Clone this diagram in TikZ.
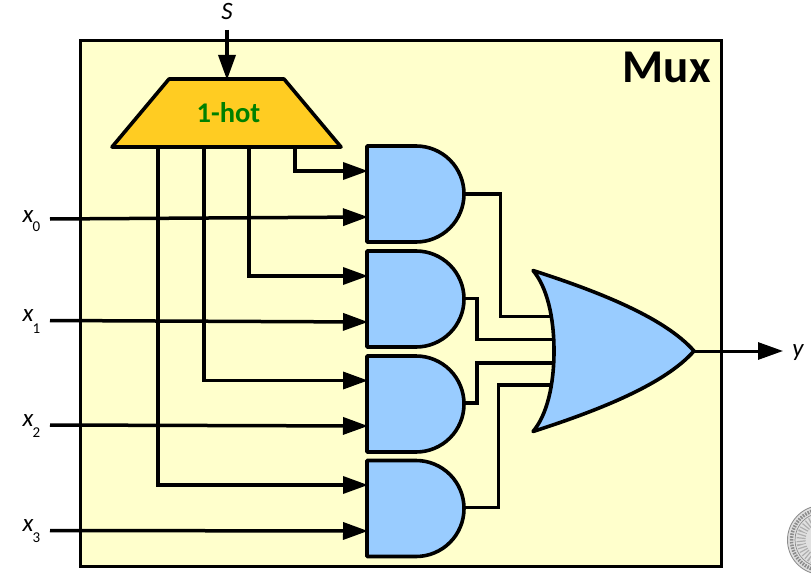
\documentclass[tikz,border=0pt]{standalone}
\usepackage{fontspec}
\setmainfont{Carlito}
\usetikzlibrary{arrows.meta}
\definecolor{boxbg}{HTML}{FFFFCC}
\definecolor{gateblue}{HTML}{99CCFF}
\definecolor{hotfill}{HTML}{FFCC22}
\definecolor{hotgreen}{HTML}{008000}
\definecolor{sealgray}{HTML}{8C8C8C}
\tikzset{
  wire/.style={line width=3.5pt,line join=miter},
  sig/.style={wire,-{Triangle[length=25pt,width=17pt,sep=-1pt]}},
  gateline/.style={line width=3.6pt,draw=black,fill=gateblue,line join=round},
  lab/.style={font=\fontsize{25}{25}\selectfont\itshape,inner sep=0pt},
  sub/.style={font=\fontsize{15}{15}\selectfont,inner sep=0pt},
}
\newcommand{\andgate}[2]{%
  \draw[gateline] (367,#2) coordinate (#1) -- ++(49,0) arc[start angle=-90,end angle=90,radius=48] -- (367,#2+96) -- cycle;
  \coordinate (#1o) at (464,#2+48);
}
\begin{document}
\begin{tikzpicture}[x=1pt,y=-1pt]
\useasboundingbox (0,0) rectangle (811,575);
\node[draw=black,line width=3.6pt,fill=boxbg,minimum width=641pt,minimum height=526pt,inner sep=0pt,outer sep=0pt,anchor=north west] (box) at (80.5,40.5) {};
\node[font=\fontsize{47}{47}\selectfont\bfseries,inner sep=0pt,anchor=base east] (muxlab) at (711,83) {Mux};
% seal
\fill[black!12] (822,540) circle[radius=34];
\draw[sealgray,line width=0.9pt] (822,540) circle[radius=34.5];
\draw[sealgray,line width=3.5pt,dash pattern=on 1.6pt off 1.2pt] (822,540) circle[radius=30.5];
\draw[sealgray,line width=0.7pt] (822,540) circle[radius=27];
\draw[sealgray!70,line width=9pt,dash pattern=on 1.2pt off 2pt] (822,540) circle[radius=21];
% inputs
\coordinate (x0s) at (50,219); \coordinate (x0e) at (367,217);
\coordinate (x1s) at (50,320.5); \coordinate (x1e) at (367,322);
\coordinate (x2s) at (50,425); \coordinate (x2e) at (367,426);
\coordinate (x3s) at (50,530.5); \coordinate (x3e) at (367,531);
\draw[sig] (x0s) -- (x0e);
\draw[sig] (x1s) -- (x1e);
\draw[sig] (x2s) -- (x2e);
\draw[sig] (x3s) -- (x3e);
% decoder outputs
\coordinate (d0) at (295,147); \coordinate (g0a) at (367,171);
\coordinate (d1) at (249,147); \coordinate (g1a) at (367,276);
\coordinate (d2) at (204,147); \coordinate (g2a) at (367,380.5);
\coordinate (d3) at (158,147); \coordinate (g3a) at (367,485);
\draw[sig] (d0) |- (g0a);
\draw[sig] (d1) |- (g1a);
\draw[sig] (d2) |- (g2a);
\draw[sig] (d3) |- (g3a);
% S
\coordinate (ss) at (227,30); \coordinate (se) at (227,79);
\draw[sig] (ss) -- (se);
% decoder
\draw[line width=3.6pt,draw=black,fill=hotfill,line join=round] (169,79) -- (284,79) -- (341,147) -- (112,147) -- cycle;
\node[font=\fontsize{28.5}{28.5}\selectfont\bfseries,text=hotgreen,inner sep=0pt] (hot) at (228.5,113) {1-hot};
% wires AND -> OR
\coordinate (o1) at (552,316.5); \coordinate (o2) at (554,339.5);
\coordinate (o3) at (554,363); \coordinate (o4) at (552,385);
\draw[wire] (464,194) -- (500.5,194) |- (o1);
\draw[wire] (464,298.5) -- (477,298.5) |- (o2);
\draw[wire] (464,403) -- (477,403) |- (o3);
\draw[wire] (464,507.5) -- (498.5,507.5) |- (o4);
% AND gates
\andgate{g0}{146}
\andgate{g1}{251}
\andgate{g2}{356}
\andgate{g3}{460.5}
% output
\coordinate (orout) at (694,351); \coordinate (yend) at (782,351);
\draw[line width=3pt,-{Triangle[length=25pt,width=17pt,sep=-1pt]}] (orout) -- (yend);
% OR gate
\draw[gateline] (533,270.5)
  .. controls (600,292) and (665,318) .. (694,351)
  .. controls (665,384) and (600,410) .. (533,431.5)
  .. controls (547,415) and (554,385) .. (554,351)
  .. controls (554,317) and (547,287) .. (533,270.5) -- cycle;
% labels
\node[lab] (s) at (227,11) {S};
\node[lab] (x0) at (28,217) {x};
\node[sub] (x0i) at (36.5,227) {0};
\node[lab] (x1) at (28,316) {x};
\node[sub] (x1i) at (36.5,329) {1};
\node[lab] (x2) at (28,421) {x};
\node[sub] (x2i) at (36.5,433) {2};
\node[lab] (x3) at (28,526) {x};
\node[sub] (x3i) at (36.5,538) {3};
\node[lab] (y) at (798,353) {y};
\end{tikzpicture}
\end{document}
